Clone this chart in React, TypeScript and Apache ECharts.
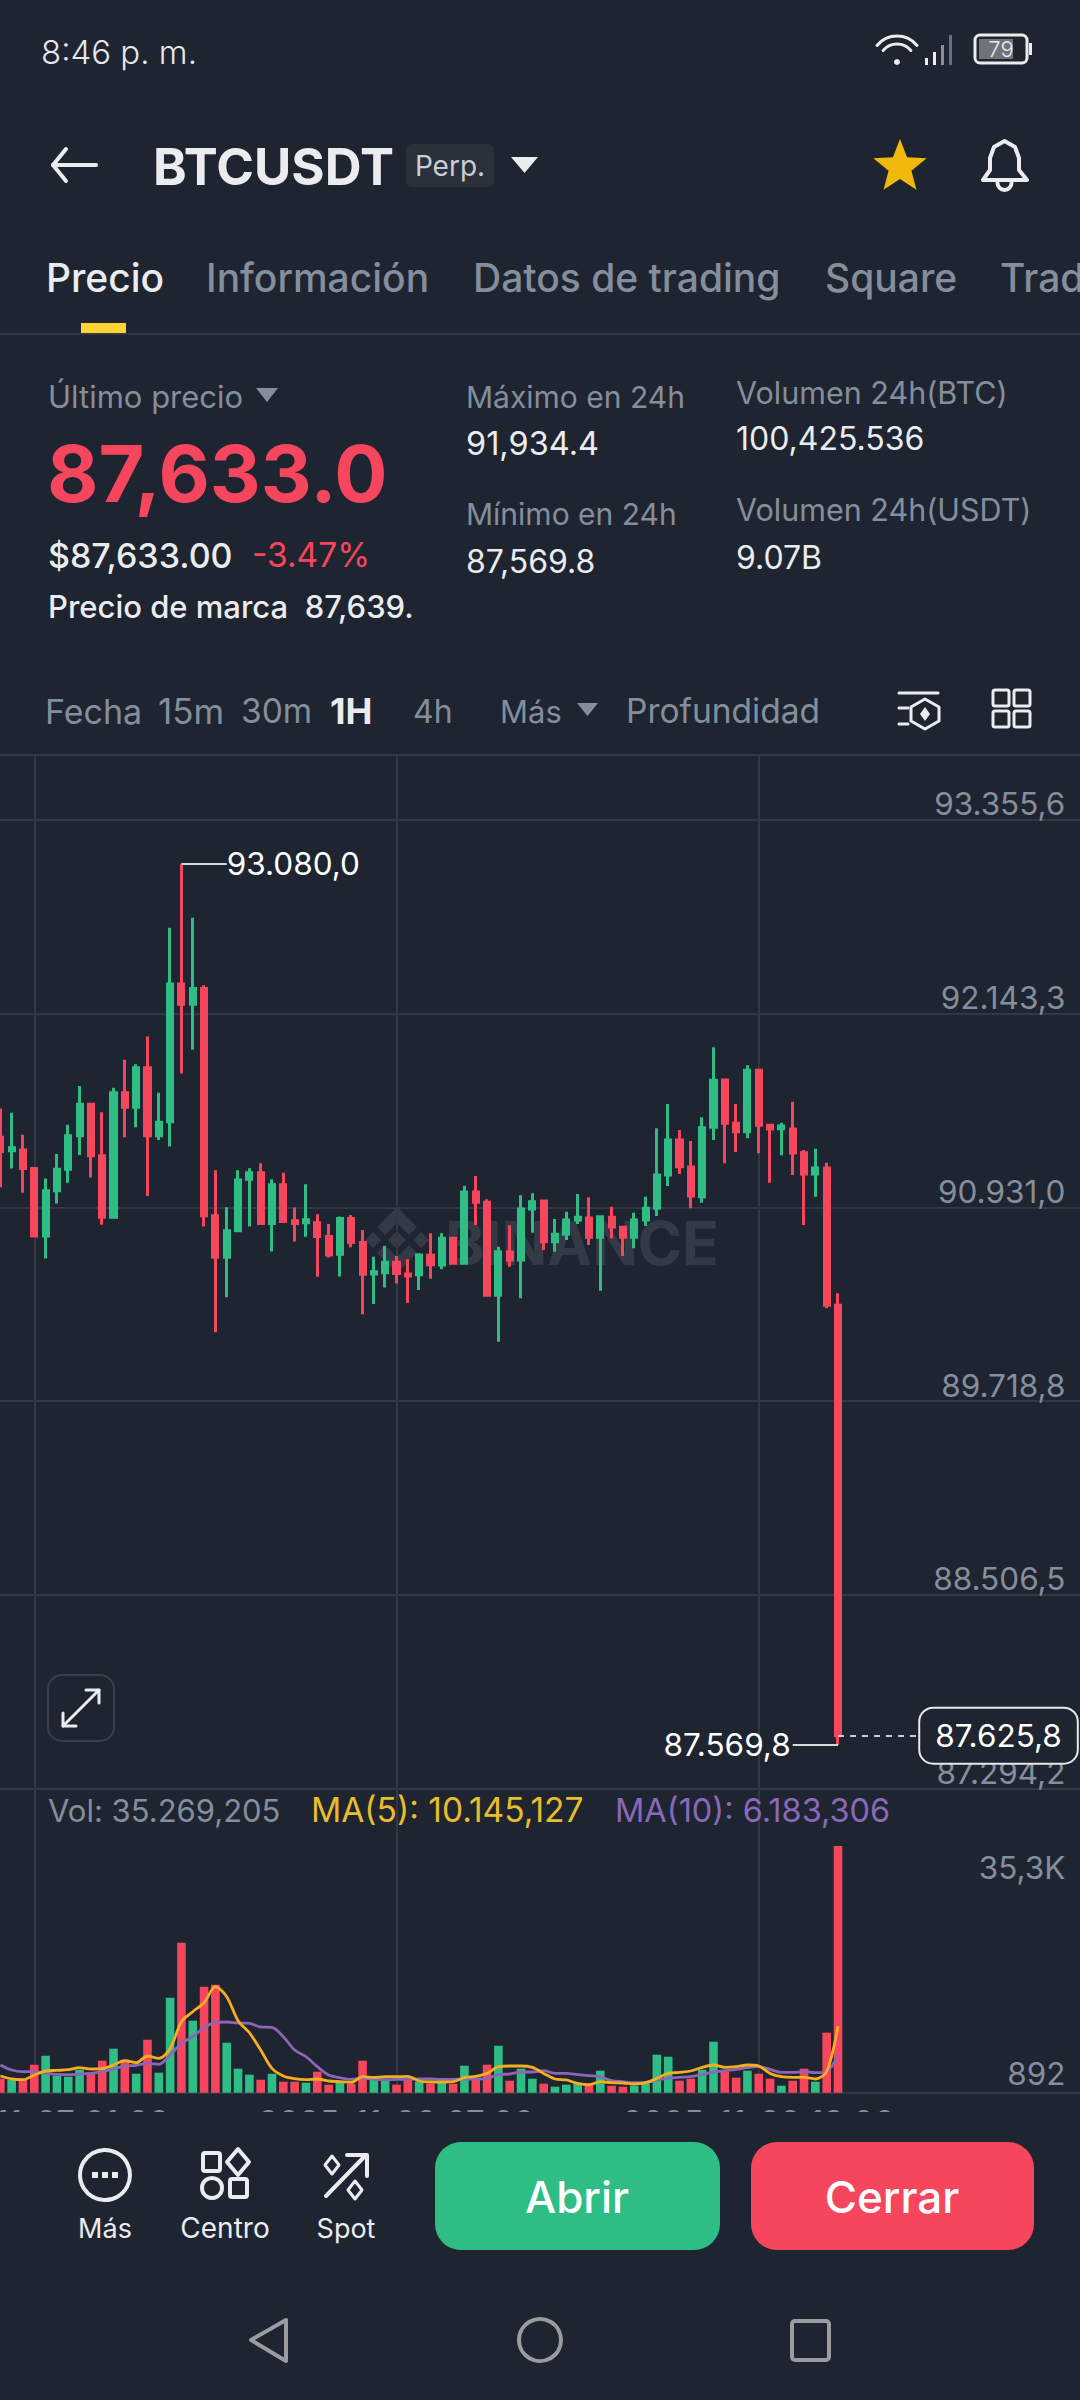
import React, { useEffect, useRef } from "react";
import * as echarts from "echarts";

const OPEN = [91369.9,91285.0,91289.5,91173.3,90751.1,91034.8,91168.9,91378.8,91575.4,91253.7,90869.5,91646.9,91557.6,91803.3,91378.8,91466.0,92328.3,92200.9,92299.2,90878.4,90619.3,90784.6,91106.3,91146.5,90829.3,91072.8,90847.1,90833.7,90833.7,90748.8,90637.1,90860.5,90710.9,90514.3,90521.0,90588.0,90513.8,90509.7,90630.6,90570.1,90736.9,90580.6,91026.8,90962.1,90380.4,90651.5,90601.4,90920.4,90970.5,90716.1,90762.0,90851.6,90864.1,90743.2,90868.3,90805.8,90743.2,90851.6,90924.6,91133.1,91352.1,91183.2,90997.6,91431.3,91727.4,91456.3,91404.2,91787.8,91443.8,91422.9,91420.9,91272.8,91139.4,91176.9,90317.8];
const CLOSE = [91280.5,91302.9,91173.3,90751.1,91034.8,91168.9,91378.8,91575.4,91253.7,90869.5,91646.9,91557.6,91803.3,91378.8,91463.7,92328.3,92200.9,92299.2,90878.4,90619.3,90784.6,91101.8,91146.5,90829.3,91072.8,90842.7,90829.3,90853.9,90748.8,90632.7,90860.5,90710.9,90512.0,90527.7,90588.0,90516.5,90501.3,90632.7,90572.2,90736.9,90580.6,91026.8,90962.1,90380.4,90653.5,90601.4,90920.4,90966.3,90716.1,90762.0,90851.6,90868.3,90743.2,90872.5,90807.8,90743.2,90851.6,90924.6,91133.1,91352.1,91185.2,91001.8,91429.2,91725.3,91456.3,91404.2,91787.8,91443.8,91420.9,91439.6,91270.7,91139.4,91176.9,90317.8,87625.8];
const HIGH = [91548.6,91521.8,91385.5,91173.3,91110.8,91264.9,91448.1,91689.4,91575.4,91526.3,91678.2,91854.7,91825.6,91999.9,91646.9,92679.0,93080.0,92741.6,92319.3,91162.1,90932.0,91162.1,91175.5,91206.8,91106.3,91146.5,90929.8,91075.0,90887.4,90827.0,90873.9,90882.9,90789.1,90621.5,90688.5,90626.0,90605.6,90643.1,90768.2,90768.2,90736.9,91066.4,91126.9,90980.9,90684.8,90818.3,91005.9,91018.4,90970.5,90857.9,90903.8,91014.3,90993.4,90878.7,90935.0,90805.8,90897.5,90997.6,91425.0,91577.2,91414.6,91345.8,91493.8,91931.7,91731.5,91577.2,91819.1,91789.9,91443.8,91460.5,91591.8,91289.5,91297.8,91210.3,90392.9];
const LOW = [91057.1,91173.3,91021.4,90751.1,90610.3,90954.4,91083.9,91258.2,91117.5,90822.6,90865.0,91369.9,91432.5,91001.3,91352.0,91311.8,91767.6,91917.2,90811.4,90150.1,90369.1,90777.9,90811.4,90829.3,90655.0,90838.2,90717.6,90746.6,90496.4,90617.0,90498.6,90681.8,90261.9,90326.6,90429.4,90454.0,90334.5,90413.8,90484.7,90543.0,90574.3,90580.6,90820.4,90380.4,90090.6,90559.7,90361.6,90772.4,90664.0,90653.5,90726.5,90826.6,90695.2,90409.6,90736.9,90626.4,90674.4,90814.1,90876.6,91064.3,91139.4,90924.6,90960.1,91352.1,91206.1,91277.0,91362.5,91268.6,91085.2,91256.1,91133.1,90820.4,90997.6,90299.1,87569.8];
const VOLUME = [2843,2704,2704,4794,6048,3261,3122,4097,3679,5351,7023,5491,3540,8278,3679,14130,21795,10925,15663,15942,7860,4236,3400,2704,3540,2425,2425,2286,3818,2007,2425,2146,5351,2843,2843,2007,2704,2425,2146,2425,2146,4654,2843,4794,7441,2564,4236,2843,2146,1728,2007,2286,2007,3958,1867,1728,1867,2146,6187,5909,2564,2843,4097,7999,3818,2982,3958,3540,2843,1867,2564,4236,2425,9253,35269.2];
const MA5 = [3219,2801,2704,3358,3916,3999,4097,4376,4195,4236,4752,5351,5073,6006,5672,7023,10786,12179,13434,15663,14270,10925,9253,6842,4278,3219,2843,2704,2801,2522,2425,2327,3122,3024,3122,3122,3163,2522,2383,2383,2425,2982,3163,3581,4515,4613,4613,4418,3581,2801,2662,2188,2007,2425,2286,2244,2104,2286,2885,3581,3721,3916,4418,4752,4418,4515,4752,4613,3581,3122,3024,3024,2801,3818,10145.1];
const MA10 = [4752,4055,3818,3818,3581,3442,3400,3498,3581,3818,4195,4613,4696,4975,4836,6145,7762,8696,9950,10688,10744,10605,10549,10047,9992,8696,6842,5909,4515,3358,2982,2745,2885,2801,2704,2745,2745,2801,2801,2745,2745,2801,2801,2885,3400,3498,3777,3777,3958,3581,3581,3400,3261,3122,2564,2425,2286,2286,2662,2885,3024,3122,3442,3777,3958,4139,4376,4515,4139,3721,3721,3818,3679,3818,6183.3];
const PRICE_TICKS = [87294.2, 88506.5, 89718.8, 90931.0, 92143.3, 93355.6];
const VOL_TICKS = [892, 35269.2];
const DATE_LABELS: Record<number, string> = { 3: "2025-11-27 01:00", 35: "2025-11-20 07:00", 67: "2025-11-20 13:00" };
const HIGH_INDEX = 16;
const LOW_INDEX = 74;
const HIGH_PRICE = 93080.0;
const LOW_PRICE = 87569.8;
const LAST_PRICE = 87625.8;
const CATEGORIES = Array.from({ length: 96 }, (_, i) => DATE_LABELS[i] ?? "h" + i);

const BG = "#1E2530";
const GRID = "#323843";
const GREEN = "#2EBD85";
const RED = "#F6465D";
const GRAY = "#848E9C";
const WHITE = "#EAECEF";
const FONT = "Inter";

const fmtPrice = (v: number) => v.toFixed(1).replace(".", ",").replace(/\B(?=(\d{3})(?!\d))/g, ".");

function txt(text: string, x: number, y: number, size: number, fill: string, weight = 400, align = "left", z = 60) {
  return { type: "text", x, y, z, style: { text, fill, font: `${weight} ${size}px ${FONT}`, align, verticalAlign: "middle", textAlign: align, textVerticalAlign: "middle" } };
}
function strokeEl(type: string, shape: any, stroke: string, lineWidth = 3, z = 60, extra: any = {}) {
  return { type, z, shape, style: { stroke, lineWidth, fill: "none", lineCap: "round", lineJoin: "round", ...extra } };
}
function fillEl(type: string, shape: any, fill: string, z = 60) {
  return { type, z, shape, style: { fill } };
}
function star(cx: number, cy: number, R: number, r: number) {
  const pts: number[][] = [];
  for (let i = 0; i < 10; i++) {
    const a = -Math.PI / 2 + (i * Math.PI) / 5;
    const q = i % 2 ? r : R;
    pts.push([cx + q * Math.cos(a), cy + q * Math.sin(a)]);
  }
  return pts;
}
function diamond(cx: number, cy: number, rx: number, ry = rx) {
  return [[cx, cy - ry], [cx + rx, cy], [cx, cy + ry], [cx - rx, cy]];
}

function uiElements(): any[] {
  const wm = "#333A45";
  const lx = 397, ly = 1240;
  const g: any[] = [
    // watermark
    fillEl("polygon", { points: diamond(lx, ly, 9) }, wm, 0),
    fillEl("polygon", { points: diamond(lx - 24, ly, 8) }, wm, 0),
    fillEl("polygon", { points: diamond(lx + 24, ly, 8) }, wm, 0),
    fillEl("polygon", { points: [[lx, ly - 33], [lx + 20, ly - 13], [lx + 12, ly - 5], [lx, ly - 17], [lx - 12, ly - 5], [lx - 20, ly - 13]] }, wm, 0),
    fillEl("polygon", { points: [[lx, ly + 33], [lx + 20, ly + 13], [lx + 12, ly + 5], [lx, ly + 17], [lx - 12, ly + 5], [lx - 20, ly + 13]] }, wm, 0),
    txt("BINANCE", 445, 1243, 60, wm, 700, "left", 0),

    // status bar
    txt("8:46 p. m.", 41, 52, 33, "#E6E8EB", 300),
    strokeEl("arc", { cx: 897, cy: 62, r: 26, startAngle: -Math.PI * 0.78, endAngle: -Math.PI * 0.22 }, WHITE, 3),
    strokeEl("arc", { cx: 897, cy: 62, r: 18, startAngle: -Math.PI * 0.78, endAngle: -Math.PI * 0.22 }, WHITE, 3),
    fillEl("circle", { cx: 897, cy: 62, r: 3 }, WHITE),
    fillEl("rect", { x: 925, y: 58, width: 3, height: 7 }, WHITE),
    fillEl("rect", { x: 933, y: 52, width: 3, height: 13 }, WHITE),
    fillEl("rect", { x: 941, y: 45, width: 3, height: 20 }, "#8B8F96"),
    fillEl("rect", { x: 949, y: 35, width: 3, height: 30 }, "#6B7078"),
    strokeEl("rect", { x: 975, y: 35, width: 52, height: 28, r: 5 }, WHITE, 3),
    fillEl("rect", { x: 979, y: 39, width: 34, height: 20 }, "#6F747C"),
    fillEl("rect", { x: 1029, y: 43, width: 3, height: 12 }, WHITE),
    txt("79", 1001, 49, 22, WHITE, 300, "center"),

    // header
    strokeEl("polyline", { points: [[66, 149], [53, 165], [66, 181]] }, WHITE, 4),
    strokeEl("line", { x1: 53, y1: 165, x2: 96, y2: 165 }, WHITE, 4),
    txt("BTCUSDT", 153, 166, 51, WHITE, 700),
    fillEl("rect", { x: 406, y: 144, width: 88, height: 43, r: 6 }, "#2B313B"),
    txt("Perp.", 450, 166, 28, "#C9CED6", 400, "center"),
    fillEl("polygon", { points: [[511, 157], [538, 157], [524.5, 173]] }, WHITE),
    fillEl("polygon", { points: star(900, 167, 28, 12) }, "#F0B90B"),
    strokeEl("polyline", { points: [[983, 180], [990, 170], [990, 158], [994, 147], [1004.5, 141], [1015, 147], [1019, 158], [1019, 170], [1027, 180], [983, 180]] }, WHITE, 4),
    strokeEl("arc", { cx: 1004.5, cy: 183, r: 7, startAngle: 0, endAngle: Math.PI }, WHITE, 4),

    // tabs
    txt("Precio", 46, 277, 39, WHITE, 500),
    txt("Información", 206, 277, 39, GRAY, 500),
    txt("Datos de trading", 473, 277, 39, GRAY, 500),
    txt("Square", 825, 277, 39, GRAY, 500),
    txt("Trad", 1000, 277, 39, GRAY, 500),
    fillEl("rect", { x: 81, y: 323, width: 45, height: 10 }, "#FCD535"),
    fillEl("rect", { x: 0, y: 333, width: 1080, height: 2 }, GRID),

    // price block
    txt("Último precio", 48, 396, 31, GRAY),
    fillEl("polygon", { points: [[256, 388], [278, 388], [267, 402]] }, GRAY),
    txt("87,633.0", 47, 473, 79, RED, 700),
    txt("$87,633.00", 48, 555, 34, WHITE, 500),
    txt("-3.47%", 252, 555, 33.5, RED),
    txt("Precio de marca  87,639.", 48, 606, 31, WHITE, 500),
    txt("Máximo en 24h", 466, 397, 30, GRAY),
    txt("91,934.4", 466, 443, 32.5, WHITE),
    txt("Mínimo en 24h", 466, 514, 30, GRAY),
    txt("87,569.8", 466, 561, 32, WHITE),
    txt("Volumen 24h(BTC)", 736, 392, 30.5, GRAY),
    txt("100,425.536", 736, 438, 32, WHITE),
    txt("Volumen 24h(USDT)", 736, 509, 30.5, GRAY),
    txt("9.07B", 736, 557, 32, WHITE),

    // intervals
    txt("Fecha", 45, 711, 34, GRAY),
    txt("15m", 158, 711, 35, GRAY),
    txt("30m", 241, 711, 33.5, GRAY),
    txt("1H", 330, 711, 36, WHITE, 700),
    txt("4h", 413, 711, 32, GRAY),
    txt("Más", 500, 711, 31, GRAY),
    fillEl("polygon", { points: [[577, 703], [598, 703], [587.5, 716]] }, GRAY),
    txt("Profundidad", 626, 711, 33.5, GRAY),
    strokeEl("line", { x1: 899, y1: 693, x2: 938, y2: 693 }, WHITE, 3),
    strokeEl("line", { x1: 899, y1: 708, x2: 908, y2: 708 }, WHITE, 3),
    strokeEl("line", { x1: 899, y1: 724, x2: 908, y2: 724 }, WHITE, 3),
    strokeEl("polygon", { points: [[925, 699], [939, 707], [939, 721], [925, 729], [911, 721], [911, 707]] }, WHITE, 3),
    fillEl("polygon", { points: diamond(925, 714, 5, 7) }, WHITE),
    strokeEl("rect", { x: 993, y: 690, width: 16, height: 16, r: 2 }, WHITE, 3),
    strokeEl("rect", { x: 1014, y: 690, width: 16, height: 16, r: 2 }, WHITE, 3),
    strokeEl("rect", { x: 993, y: 711, width: 16, height: 16, r: 2 }, WHITE, 3),
    strokeEl("rect", { x: 1014, y: 711, width: 16, height: 16, r: 2 }, WHITE, 3),
    fillEl("rect", { x: 0, y: 754, width: 1080, height: 2 }, GRID),

    // expand
    { type: "rect", z: 60, shape: { x: 48, y: 1675, width: 66, height: 66, r: 14 }, style: { fill: BG, stroke: "#3A404A", lineWidth: 2 } },
    strokeEl("line", { x1: 63, y1: 1726, x2: 99, y2: 1690 }, WHITE, 3),
    strokeEl("polyline", { points: [[63, 1713], [63, 1726], [76, 1726]] }, WHITE, 3),
    strokeEl("polyline", { points: [[86, 1690], [99, 1690], [99, 1703]] }, WHITE, 3),

    // volume legend
    txt("Vol: 35.269,205", 48, 1810, 31, GRAY),
    txt("MA(5): 10.145,127", 311, 1810, 33.5, "#E9BC2E"),
    txt("MA(10): 6.183,306", 615, 1810, 32.5, "#8A68BA"),

    // bottom panel
    fillEl("rect", { x: 0, y: 2112, width: 1080, height: 288 }, BG, 50),
    strokeEl("circle", { cx: 105, cy: 2175, r: 25 }, WHITE, 4),
    fillEl("rect", { x: 92, y: 2172, width: 6, height: 6 }, WHITE),
    fillEl("rect", { x: 102, y: 2172, width: 6, height: 6 }, WHITE),
    fillEl("rect", { x: 112, y: 2172, width: 6, height: 6 }, WHITE),
    txt("Más", 105, 2228, 27, WHITE, 400, "center"),
    strokeEl("rect", { x: 203, y: 2153, width: 17, height: 18, r: 2 }, WHITE, 4),
    strokeEl("polygon", { points: diamond(238, 2162, 11, 13) }, WHITE, 4),
    strokeEl("circle", { cx: 212, cy: 2188, r: 10 }, WHITE, 4),
    strokeEl("rect", { x: 230, y: 2179, width: 17, height: 18, r: 2 }, WHITE, 4),
    txt("Centro", 225, 2228, 28, WHITE, 400, "center"),
    strokeEl("line", { x1: 326, y1: 2196, x2: 366, y2: 2155 }, WHITE, 4),
    strokeEl("polyline", { points: [[347, 2155], [367, 2155], [367, 2176]] }, WHITE, 4),
    strokeEl("polygon", { points: diamond(332, 2165, 7, 9) }, WHITE, 3),
    strokeEl("polygon", { points: diamond(355, 2190, 7, 9) }, WHITE, 3),
    txt("Spot", 346, 2228, 27, WHITE, 400, "center"),
    fillEl("rect", { x: 435, y: 2142, width: 285, height: 108, r: 26 }, GREEN),
    txt("Abrir", 577, 2197, 44, "#FFFFFF", 500, "center"),
    fillEl("rect", { x: 751, y: 2142, width: 283, height: 108, r: 26 }, RED),
    txt("Cerrar", 892, 2197, 44, "#FFFFFF", 500, "center"),
    strokeEl("polygon", { points: [[286, 2320], [251, 2340], [286, 2361]] }, "#9A9CA0", 4),
    strokeEl("circle", { cx: 540, cy: 2340, r: 21 }, "#9A9CA0", 4),
    strokeEl("rect", { x: 792, y: 2321, width: 37, height: 39, r: 3 }, "#9A9CA0", 4),
  ];
  return g;
}

function option(): any {
  const xLabel = (show: boolean, gridIndex: number) => ({
    type: "category",
    gridIndex,
    data: CATEGORIES,
    boundaryGap: true,
    axisTick: { show: false },
    axisLine: { show: gridIndex === 1, lineStyle: { color: GRID, width: 2 } },
    splitLine: { show: true, alignWithLabel: true, interval: (i: number) => DATE_LABELS[i] !== undefined, lineStyle: { color: GRID, width: 2 } },
    axisLabel: show
      ? { show: true, interval: (i: number) => DATE_LABELS[i] !== undefined, formatter: (v: string) => v, color: GRAY, fontFamily: FONT, fontSize: 33, margin: 13, hideOverlap: false }
      : { show: false },
  });
  const volMin = 892;
  const volMax = 43254;
  const volAxis = (values: number[], verticalAlign: string, lineHeight: number, label: (v: number) => string) => ({
    type: "value",
    gridIndex: 1,
    position: "right",
    min: volMin,
    max: volMax,
    axisLine: { show: false },
    axisTick: { show: false, customValues: values },
    splitLine: { show: false },
    axisLabel: { show: true, inside: true, customValues: values, formatter: label, color: GRAY, fontFamily: FONT, fontSize: 31.5, margin: 16, verticalAlign, lineHeight, showMinLabel: true, showMaxLabel: true },
  });
  const mlLabel = (price: number) => ({ show: true, color: "#FFFFFF", fontFamily: FONT, fontSize: 31.5, formatter: fmtPrice(price) });
  return {
    animation: false,
    backgroundColor: BG,
    graphic: { elements: uiElements() },
    grid: [
      { left: -5.34, width: 1086.72, top: 755, height: 1033.7, outerBoundsMode: "none" },
      { left: -5.34, width: 1086.72, top: 1788.7, height: 304, outerBoundsMode: "none" },
    ],
    xAxis: [xLabel(false, 0), xLabel(true, 1)],
    yAxis: [
      {
        type: "value",
        gridIndex: 0,
        position: "right",
        min: PRICE_TICKS[0],
        max: 93760.3,
        axisLine: { show: false },
        axisTick: { show: false, customValues: PRICE_TICKS },
        splitLine: { show: true, lineStyle: { color: GRID, width: 2 } },
        axisLabel: { show: true, inside: true, customValues: PRICE_TICKS, formatter: fmtPrice, color: GRAY, fontFamily: FONT, fontSize: 31.5, margin: 16, verticalAlign: "bottom", lineHeight: 32, showMinLabel: true },
      },
      volAxis([VOL_TICKS[0]], "bottom", 39, (v) => String(Math.round(v))),
      volAxis([VOL_TICKS[1]], "top", 42, (v) => (v / 1000).toFixed(1).replace(".", ",") + "K"),
    ],
    series: [
      {
        type: "candlestick",
        xAxisIndex: 0,
        yAxisIndex: 0,
        barWidth: 5.6,
        data: OPEN.map((o, i) => [o, CLOSE[i], LOW[i], HIGH[i]]),
        itemStyle: { color: GREEN, color0: RED, borderColor: GREEN, borderColor0: RED, borderWidth: 3 },
        markLine: {
          silent: true,
          symbol: "none",
          animation: false,
          data: [
            [
              { coord: [CATEGORIES[HIGH_INDEX], HIGH_PRICE], lineStyle: { color: "#D5D8DC", width: 2, type: "solid" }, label: { ...mlLabel(HIGH_PRICE), position: "end", distance: 0 } },
              { coord: [CATEGORIES[HIGH_INDEX + 4], HIGH_PRICE] },
            ],
            [
              { coord: [CATEGORIES[LOW_INDEX - 4], LOW_PRICE], lineStyle: { color: "#D5D8DC", width: 2, type: "solid" }, label: { ...mlLabel(LOW_PRICE), position: "start", distance: 2 } },
              { coord: [CATEGORIES[LOW_INDEX], LOW_PRICE] },
            ],
            [
              { coord: [CATEGORIES[LOW_INDEX], LAST_PRICE], lineStyle: { color: "#C8CCD2", width: 2, type: [6, 6] }, label: { ...mlLabel(LAST_PRICE), position: "end", distance: 3, backgroundColor: BG, borderColor: "#E6E8EB", borderWidth: 2, borderRadius: 13, padding: [11, 15, 11, 15], lineHeight: 32 } },
              { coord: [CATEGORIES[LOW_INDEX + 7], LAST_PRICE] },
            ],
          ],
        },
      },
      {
        type: "bar",
        xAxisIndex: 1,
        yAxisIndex: 1,
        barWidth: 8.6,
        data: VOLUME,
        itemStyle: { color: (p: any) => (CLOSE[p.dataIndex] >= OPEN[p.dataIndex] ? GREEN : RED) },
      },
      { type: "line", xAxisIndex: 1, yAxisIndex: 1, data: MA10, smooth: 0.3, symbol: "none", lineStyle: { color: "#8C65B8", width: 2.8 }, z: 3 },
      { type: "line", xAxisIndex: 1, yAxisIndex: 1, data: MA5, smooth: 0.3, symbol: "none", lineStyle: { color: "#F5AE1E", width: 2.8 }, z: 4 },
    ],
  };
}

export default function App() {
  const ref = useRef<HTMLDivElement>(null);
  useEffect(() => {
    document.body.style.margin = "0";
    document.body.style.background = BG;
    const chart = echarts.init(ref.current!, undefined, { renderer: "svg", width: 1080, height: 2400 });
    chart.setOption(option());
    return () => chart.dispose();
  }, []);
  return <div ref={ref} style={{ position: "absolute", left: 0, top: 0, width: 1080, height: 2400, overflow: "hidden" }} />;
}
